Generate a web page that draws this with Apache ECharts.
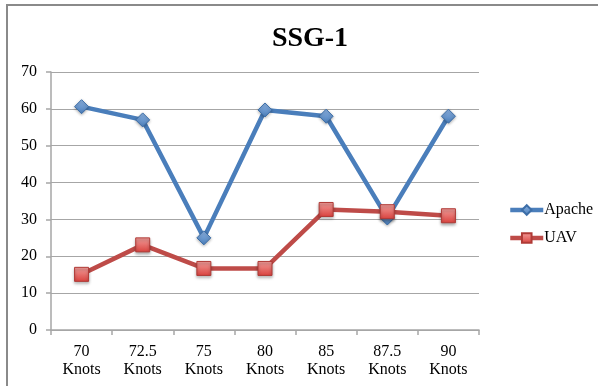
<!DOCTYPE html>
<html>
<head>
<meta charset="utf-8">
<script src="https://cdn.jsdelivr.net/npm/echarts@6/dist/echarts.min.js"></script>
<style>
  html, body { margin: 0; padding: 0; background: #fff; }
  #chart { width: 598px; height: 386px; }
</style>
</head>
<body>
<div id="chart"></div>
<script>
// Speed categories and measured values for each series
const categories = ['70\nKnots', '72.5\nKnots', '75\nKnots', '80\nKnots', '85\nKnots', '87.5\nKnots', '90\nKnots'];
const apache = [60.6, 57.0, 25.0, 59.7, 58.0, 30.4, 58.0];
const uav = [15.1, 23.1, 16.7, 16.7, 32.7, 32.1, 31.0];
const yTicks = { min: 0, max: 70, interval: 10 };

const serif = '"Liberation Serif", "DejaVu Serif", serif';

function grad(top, bottom) {
  return new echarts.graphic.LinearGradient(0, 0, 0, 1, [
    { offset: 0, color: top },
    { offset: 1, color: bottom }
  ]);
}

const chart = echarts.init(document.getElementById('chart'), null, { renderer: 'canvas' });
chart.setOption({
  animation: false,
  backgroundColor: '#fff',
  graphic: [{
    type: 'rect',
    shape: { x: 7, y: 5, width: 620, height: 420 },
    style: { fill: 'none', stroke: '#8a8a8a', lineWidth: 2 },
    silent: true,
    z: 100
  }],
  title: {
    text: 'SSG-1',
    left: 305,
    top: 20,
    textAlign: 'center',
    textStyle: { fontFamily: serif, fontWeight: 'bold', fontSize: 28, color: '#000' }
  },
  legend: {
    orient: 'vertical',
    left: 503,
    top: 197,
    itemWidth: 33,
    itemHeight: 12,
    itemGap: 12,
    lineStyle: { width: 4.5 },
    textStyle: { fontFamily: serif, fontSize: 16, color: '#000', padding: [0, 0, 0, -4] },
    data: ['Apache', 'UAV']
  },
  grid: { left: 51, right: 119, top: 72, bottom: 56 },
  xAxis: {
    type: 'category',
    data: categories,
    boundaryGap: true,
    axisLine: { lineStyle: { color: '#a6a6a6', width: 1.5 } },
    axisTick: { show: true, length: 5, lineStyle: { color: '#a6a6a6', width: 1.5 } },
    axisLabel: { fontFamily: serif, fontSize: 16, color: '#000', lineHeight: 18, margin: 13 }
  },
  yAxis: {
    type: 'value',
    min: yTicks.min,
    max: yTicks.max,
    interval: yTicks.interval,
    axisLine: { show: true, lineStyle: { color: '#a6a6a6', width: 1.5 } },
    axisTick: { show: true, length: 5, lineStyle: { color: '#a6a6a6', width: 1.5 } },
    splitLine: { lineStyle: { color: '#a6a6a6', width: 1 } },
    axisLabel: { fontFamily: serif, fontSize: 16, color: '#000', margin: 14 }
  },
  series: [
    {
      name: 'Apache',
      type: 'line',
      data: apache,
      symbol: 'diamond',
      symbolSize: 14,
      lineStyle: { color: '#4a7ebb', width: 4.5 },
      itemStyle: {
        color: grad('#8db3e2', '#4a7ebb'),
        borderColor: '#3c6ea8',
        borderWidth: 1,
        shadowBlur: 3,
        shadowColor: 'rgba(0,0,0,0.3)',
        shadowOffsetY: 1
      },
      z: 2
    },
    {
      name: 'UAV',
      type: 'line',
      data: uav,
      symbol: 'rect',
      symbolSize: 14,
      lineStyle: { color: '#be4b48', width: 4.5 },
      itemStyle: {
        color: grad('#f4a09d', '#d9413d'),
        borderColor: '#b03a36',
        borderWidth: 1,
        shadowBlur: 3,
        shadowColor: 'rgba(0,0,0,0.35)',
        shadowOffsetY: 2
      },
      z: 3
    }
  ]
});
</script>
</body>
</html>
